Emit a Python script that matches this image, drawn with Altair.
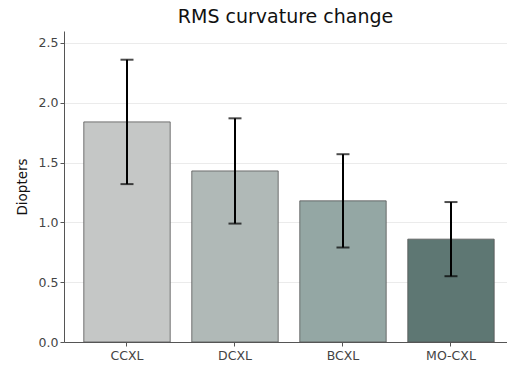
import altair as alt
import pandas as pd

groups = ["CCXL", "DCXL", "BCXL", "MO-CXL"]
means = [1.84, 1.43, 1.18, 0.86]
lows = [1.32, 0.99, 0.79, 0.55]
highs = [2.36, 1.87, 1.57, 1.17]
colors = ["#c5c7c6", "#b0b9b7", "#94a7a4", "#5e7773"]

df = pd.DataFrame({"group": groups, "mean": means, "low": lows, "high": highs})

font = "DejaVu Sans"
xscale = alt.Scale(domain=groups, paddingInner=0.2, paddingOuter=0.151, align=0.607)
xenc = alt.X("group:N", sort=groups, scale=xscale,
             axis=alt.Axis(title=None, labelAngle=0, labelFontSize=12.5, labelColor="#444",
                           labelFont=font, domainColor="#555", tickColor="#555",
                           tickSize=4, labelPadding=3, grid=False))
yscale = alt.Scale(domain=[0, 2.6], nice=False)

bars = alt.Chart(df).mark_bar(stroke="#555555", strokeWidth=1, strokeOpacity=0.8).encode(
    x=xenc,
    y=alt.Y("mean:Q", scale=yscale,
            axis=alt.Axis(title="Diopters", values=[0, 0.5, 1, 1.5, 2, 2.5], format=".1f",
                          labelFontSize=12.5, labelColor="#444", labelFont=font,
                          titleFont=font, titleFontSize=13.5, titleFontWeight="normal",
                          titleColor="#111", titlePadding=9,
                          domainColor="#555", tickColor="#555", tickSize=4,
                          gridColor="#ebebeb", gridWidth=1)),
    color=alt.Color("group:N", scale=alt.Scale(domain=groups, range=colors), legend=None),
)

rule = alt.Chart(df).mark_rule(color="black", strokeWidth=2).encode(
    x=alt.X("group:N", sort=groups, scale=xscale),
    y=alt.Y("low:Q", scale=yscale),
    y2="high:Q",
)
cap_hi = alt.Chart(df).mark_tick(color="black", thickness=2, size=13, orient="horizontal").encode(
    x=alt.X("group:N", sort=groups, scale=xscale),
    y=alt.Y("high:Q", scale=yscale),
)
cap_lo = alt.Chart(df).mark_tick(color="black", thickness=2, size=13, orient="horizontal").encode(
    x=alt.X("group:N", sort=groups, scale=xscale),
    y=alt.Y("low:Q", scale=yscale),
)

chart = alt.layer(bars, rule, cap_hi, cap_lo).properties(
    width=443, height=311,
    title=alt.TitleParams("RMS curvature change", font=font, fontSize=19,
                          fontWeight="normal", color="#111", anchor="middle", offset=4),
    padding={"left": 64, "top": 31, "right": 0, "bottom": 27},
    autosize=alt.AutoSizeParams(type="none"),
).configure_view(stroke=None).configure_axis(domainWidth=1)

chart.save("out.html", embed_options={"renderer": "svg", "actions": False})
